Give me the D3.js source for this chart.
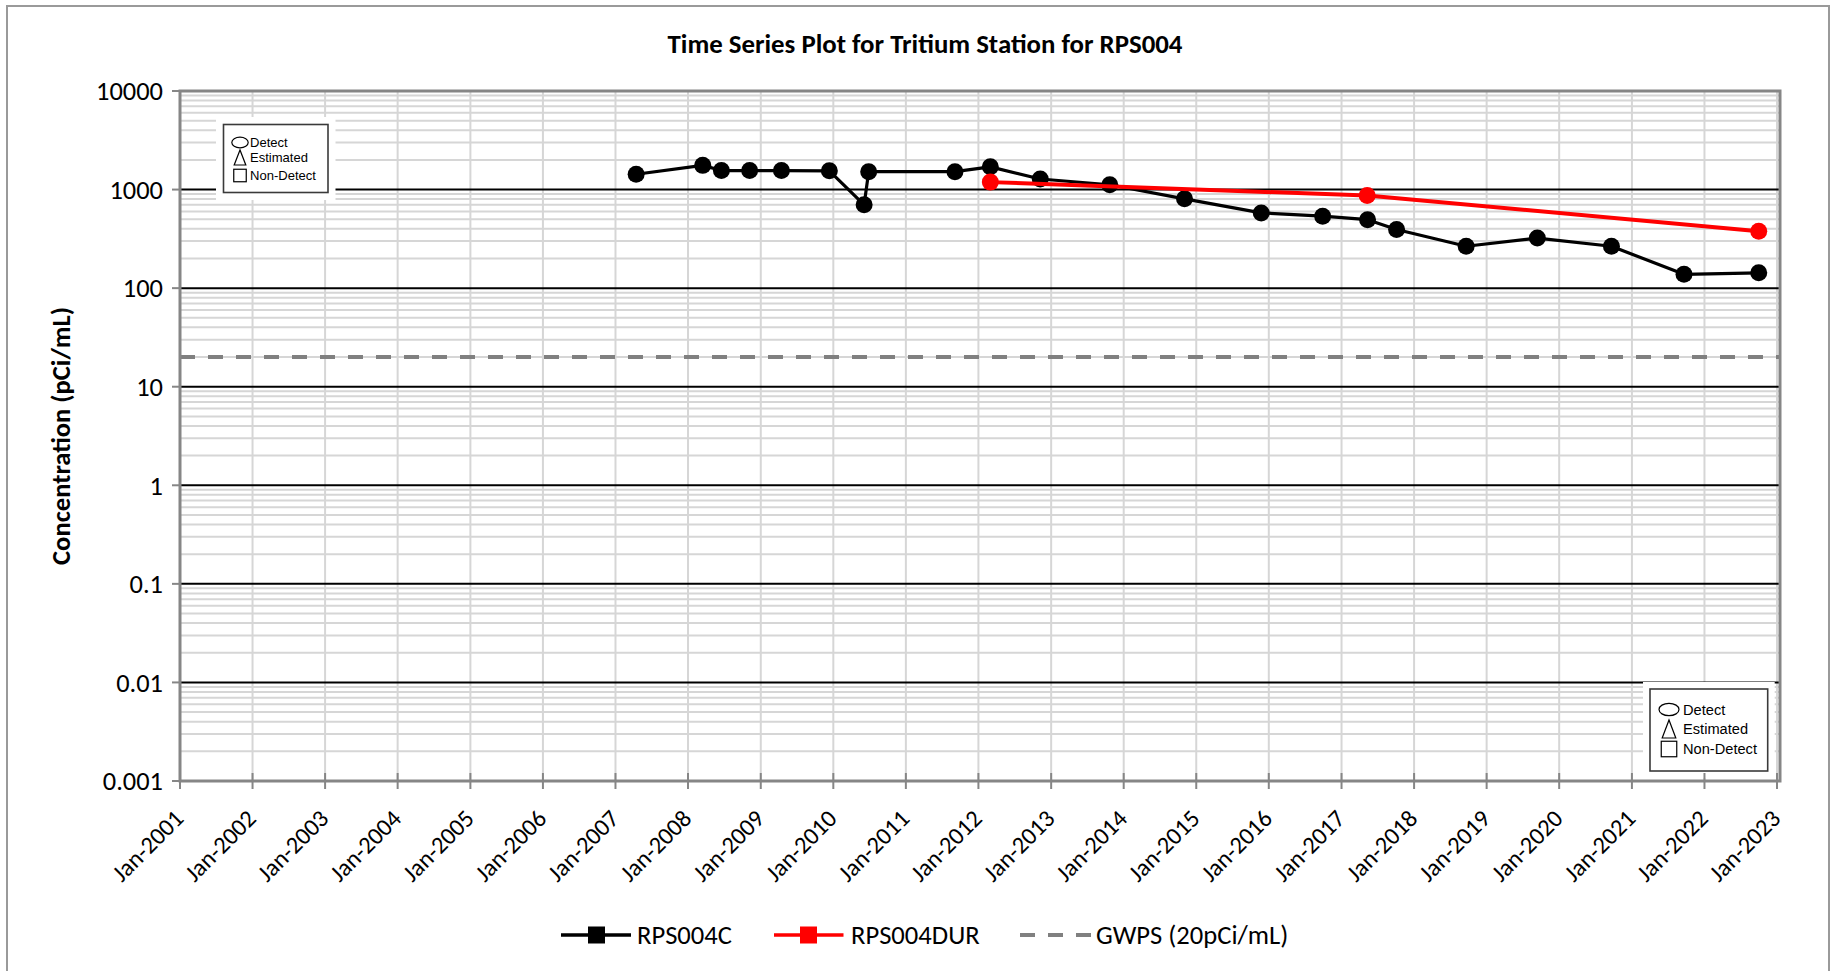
<!DOCTYPE html>
<html><head><meta charset="utf-8">
<script src="https://cdn.jsdelivr.net/npm/d3@7"></script>
<style>body{margin:0;background:#fff;} svg{display:block}</style>
</head><body>
<svg id="chart" width="1835" height="971"></svg>
<script>
// ---------- data ----------
const chartTitle = "Time Series Plot for Tritium Station for RPS004";
const yAxisTitle = "Concentration (pCi/mL)";
const seriesNames = ["RPS004C", "RPS004DUR", "GWPS (20pCi/mL)"];
const rps004cDates = ["2007-04-15","2008-03-15","2008-06-17","2008-11-06","2009-04-15","2009-12-12","2010-06-05","2010-06-28","2011-09-05","2012-03-01","2012-11-07","2013-10-23","2014-11-03","2015-11-24","2016-09-28","2017-05-12","2017-10-05","2018-09-20","2019-09-13","2020-09-20","2021-09-20","2022-10-01"];
const rps004cValues = [1430,1760,1560,1560,1560,1550,700,1520,1520,1700,1280,1120,805,580,537,495,393,266,322,266,138,143];
const rps004durDates = ["2012-03-01","2017-05-10","2022-10-01"];
const rps004durValues = [1190,870,378];
const gwpsValue = 20;
const yTickValues = [0.001,0.01,0.1,1,10,100,1000,10000];
const yTickLabels = ["0.001","0.01","0.1","1","10","100","1000","10000"];
const xTickYears = d3.range(2001, 2024);
const markerKeyLabels = ["Detect","Estimated","Non-Detect"];

// ---------- setup ----------
const svg = d3.select("#chart");
const FONT = "Carlito, Calibri, Lato, sans-serif";
const parse = d3.timeParse("%Y-%m-%d");
const L = 180, R = 1780, T = 91, B = 781;
const x = d3.scaleTime().domain([new Date(2001,0,1), new Date(2023,0,16)]).range([L, R]);
const y = d3.scaleLog().domain([0.001, 10000]).range([B, T]);

function fitSize(sel, target, base){
  base = base || 20;
  sel.style("font-size", base + "px");
  const w = sel.node().getComputedTextLength();
  return base * target / w;
}

svg.append("rect").attr("width",1835).attr("height",971).attr("fill","#fff");
svg.append("rect").attr("x",7).attr("y",6).attr("width",1822).attr("height",980)
  .attr("fill","none").attr("stroke","#9a9a9a").attr("stroke-width",2);

const xTicks = xTickYears.map(yr => new Date(yr,0,1));

// vertical gridlines
svg.append("g").selectAll("line").data(xTicks.slice(1)).join("line")
  .attr("x1", d => x(d)).attr("x2", d => x(d)).attr("y1", T).attr("y2", B)
  .attr("stroke","#d6d6d6").attr("stroke-width",2);

// minor horizontal gridlines
const minorVals = [];
for (let e = -3; e < 4; e++) for (let k = 2; k <= 9; k++) minorVals.push(k * Math.pow(10, e));
svg.append("g").selectAll("line").data(minorVals).join("line")
  .attr("x1", L).attr("x2", R).attr("y1", d => y(d)).attr("y2", d => y(d))
  .attr("stroke","#d6d6d6").attr("stroke-width",2);

// major horizontal gridlines
svg.append("g").selectAll("line").data(yTickValues.slice(1, -1)).join("line")
  .attr("x1", L).attr("x2", R).attr("y1", d => y(d)).attr("y2", d => y(d))
  .attr("stroke","#000").attr("stroke-width",2);

// GWPS line
svg.append("line").attr("x1", L).attr("x2", R).attr("y1", y(gwpsValue)).attr("y2", y(gwpsValue))
  .attr("stroke","#808080").attr("stroke-width",4).attr("stroke-dasharray","15,13");

// marker key boxes
function keyBox(bx, by, bw, bh, pad, s){
  const g = svg.append("g");
  g.append("rect").attr("x", bx - pad).attr("y", by - pad).attr("width", bw + 2*pad).attr("height", bh + 2*pad).attr("fill","#fff");
  g.append("rect").attr("x", bx).attr("y", by).attr("width", bw).attr("height", bh)
    .attr("fill","#fff").attr("stroke","#3a3a3a").attr("stroke-width",1.6);
  const sx = bx + s.symX, tx = bx + s.textX;
  g.append("ellipse").attr("cx", sx).attr("cy", by + s.r1).attr("rx", s.erx).attr("ry", s.ery)
    .attr("fill","none").attr("stroke","#000").attr("stroke-width",1.2);
  g.append("path").attr("d", `M${sx},${by + s.r2 - s.th/2} L${sx - s.tw/2},${by + s.r2 + s.th/2} L${sx + s.tw/2},${by + s.r2 + s.th/2} Z`)
    .attr("fill","none").attr("stroke","#000").attr("stroke-width",1.2);
  g.append("rect").attr("x", sx - s.sq/2).attr("y", by + s.r3 - s.sq/2).attr("width", s.sq).attr("height", s.sq)
    .attr("fill","none").attr("stroke","#000").attr("stroke-width",1.2);
  const texts = g.selectAll("text.k").data(markerKeyLabels).join("text").attr("class","k")
    .attr("x", tx).attr("y", (d,i) => by + [s.r1, s.r2, s.r3][i]).attr("dy","0.36em")
    .attr("font-family","'Liberation Sans', Arial, sans-serif").attr("fill","#000").text(d => d);
  const fs = fitSize(texts.filter((d,i)=>i===2), s.nw);
  texts.style("font-size", fs + "px");
}
keyBox(223.5, 124.5, 104.5, 68, 7.5, {symX:16.5, textX:26.5, r1:18, r2:33, r3:51, erx:8.2, ery:5.3, tw:11.6, th:15, sq:12.5, nw:66});
keyBox(1650, 689, 117.7, 82, 7, {symX:19, textX:33, r1:20.5, r2:40, r3:60, erx:10, ery:6.2, tw:13.6, th:18, sq:15.5, nw:74});

// plot border / axes
svg.append("rect").attr("x", L).attr("y", T).attr("width", R - L).attr("height", B - T)
  .attr("fill","none").attr("stroke","#868686").attr("stroke-width",3);
svg.append("g").selectAll("line").data(yTickValues).join("line")
  .attr("x1", L - 8).attr("x2", L).attr("y1", d => y(d)).attr("y2", d => y(d))
  .attr("stroke","#868686").attr("stroke-width",2);
svg.append("g").selectAll("line").data(xTicks).join("line")
  .attr("x1", d => x(d)).attr("x2", d => x(d)).attr("y1", B - 8).attr("y2", B + 8)
  .attr("stroke","#868686").attr("stroke-width",2);

// y tick labels
const yLab = svg.append("g").selectAll("text").data(yTickValues).join("text")
  .attr("x", 163).attr("y", d => y(d)).attr("dy","0.35em").attr("text-anchor","end")
  .attr("font-family", FONT).attr("fill","#000").text((d,i) => yTickLabels[i]);
const yfs = fitSize(yLab.filter(d => d === 10000), 67);
yLab.style("font-size", yfs + "px");

// x tick labels
const xLab = svg.append("g").selectAll("text").data(xTicks).join("text")
  .attr("transform", d => `translate(${x(d) + 5},${B + 39}) rotate(-45)`)
  .attr("text-anchor","end").attr("font-family", FONT).attr("fill","#000")
  .text(d => d3.timeFormat("%b-%Y")(d));
const xfs = fitSize(xLab.filter((d,i) => i === 0), 89);
xLab.style("font-size", xfs + "px");

// series
const c = rps004cDates.map((d,i) => ({date: parse(d), value: rps004cValues[i]}));
const dur = rps004durDates.map((d,i) => ({date: parse(d), value: rps004durValues[i]}));
const line = d3.line().x(d => x(d.date)).y(d => y(d.value));
svg.append("path").datum(c).attr("d", line).attr("fill","none").attr("stroke","#000").attr("stroke-width",3.2).attr("stroke-linejoin","round");
svg.append("g").selectAll("circle").data(c).join("circle")
  .attr("cx", d => x(d.date)).attr("cy", d => y(d.value)).attr("r", 8.5).attr("fill","#000");
svg.append("path").datum(dur).attr("d", line).attr("fill","none").attr("stroke","#ff0000").attr("stroke-width",4).attr("stroke-linejoin","round");
svg.append("g").selectAll("circle").data(dur).join("circle")
  .attr("cx", d => x(d.date)).attr("cy", d => y(d.value)).attr("r", 8.5).attr("fill","#ff0000");

// title
const title = svg.append("text").attr("x", 925).attr("y", 53).attr("text-anchor","middle")
  .attr("font-family", FONT).attr("font-weight","bold").attr("fill","#000").text(chartTitle);
title.style("font-size", fitSize(title, 515) + "px");

// y axis title
const yt = svg.append("text").attr("transform","translate(61,436) rotate(-90)").attr("text-anchor","middle")
  .attr("dy","0.35em").attr("font-family", FONT).attr("font-weight","bold").attr("fill","#000").text(yAxisTitle);
yt.style("font-size", fitSize(yt, 258) + "px");

// bottom legend
const legY = 935;
const lg = svg.append("g");
lg.append("line").attr("x1",561).attr("x2",631).attr("y1",legY).attr("y2",legY).attr("stroke","#000").attr("stroke-width",3.5);
lg.append("rect").attr("x",588).attr("y",legY-8.5).attr("width",17).attr("height",17).attr("fill","#000");
lg.append("line").attr("x1",774).attr("x2",843.5).attr("y1",legY).attr("y2",legY).attr("stroke","#ff0000").attr("stroke-width",3.5);
lg.append("rect").attr("x",800).attr("y",legY-8.5).attr("width",17).attr("height",17).attr("fill","#ff0000");
lg.append("line").attr("x1",1020).attr("x2",1091).attr("y1",legY).attr("y2",legY).attr("stroke","#808080").attr("stroke-width",4).attr("stroke-dasharray","15,13");
const legX = [637, 851, 1096];
const legT = lg.selectAll("text").data(seriesNames).join("text")
  .attr("x", (d,i) => legX[i]).attr("y", legY).attr("dy","0.35em")
  .attr("font-family", FONT).attr("fill","#000").text(d => d);
const lfs = fitSize(legT.filter((d,i) => i === 0), 95);
legT.style("font-size", lfs + "px");
</script>
</body></html>
